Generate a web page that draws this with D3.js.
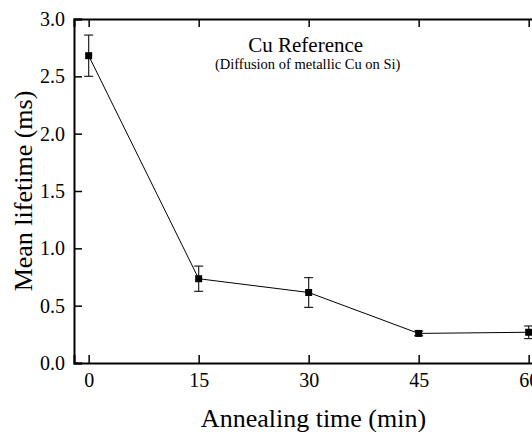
<!DOCTYPE html>
<html>
<head>
<meta charset="utf-8">
<script src="https://cdn.jsdelivr.net/npm/d3@7"></script>
<style>
  body { margin: 0; background: #fff; }
</style>
</head>
<body>
<svg id="chart"></svg>
<script>
// data
const annealTime = [0, 15, 30, 45, 60];
const lifetime = [2.68, 0.735, 0.615, 0.258, 0.268];
const lifetimeErr = [0.18, 0.11, 0.13, 0.02, 0.055];
const xTicks = [0, 15, 30, 45, 60];
const yTicks = [0.0, 0.5, 1.0, 1.5, 2.0, 2.5, 3.0];

const serif = "'Liberation Serif', 'Times New Roman', Times, serif";

// setting up svg
const w = 532, h = 432;
const margin = {top: 19, left: 74, bottom: 69, right: -15};
const innerW = w - margin.left - margin.right;
const innerH = h - margin.top - margin.bottom;

const svg = d3.select("#chart").attr("width", w).attr("height", h);
const g = svg.append("g").attr("transform", `translate(${margin.left},${margin.top})`);

// scales
const x = d3.scaleLinear().domain([-2, 62.5]).range([0, innerW]);
const y = d3.scaleLinear().domain([0, 3]).range([innerH, 0]);

// axes, ticks pointing inward
const xAxis = g.append("g").attr("transform", `translate(0,${innerH})`)
  .call(d3.axisBottom(x).tickValues(xTicks).tickSize(-8).tickPadding(10).tickFormat(d3.format("d")));
const xTop = g.append("g")
  .call(d3.axisTop(x).tickValues(xTicks).tickSize(-8).tickFormat(""));
const yAxis = g.append("g")
  .call(d3.axisLeft(y).tickValues(yTicks).tickSize(-8).tickPadding(9).tickFormat(d3.format(".1f")));
const yRight = g.append("g").attr("transform", `translate(${innerW},0)`)
  .call(d3.axisRight(y).tickValues(yTicks).tickSize(-8).tickFormat(""));

[xAxis, xTop, yAxis, yRight].forEach(a => {
  a.attr("font-family", null).attr("font-size", null);
  a.select(".domain").attr("stroke", "#000").attr("stroke-width", 2);
  a.selectAll(".tick line").attr("stroke", "#000").attr("stroke-width", 1.5);
  a.selectAll(".tick text").attr("fill", "#000")
    .style("font-family", serif).style("font-size", "20px");
});

// axis titles
svg.append("text")
  .attr("x", margin.left + innerW / 2 + 3)
  .attr("y", 427)
  .attr("text-anchor", "middle")
  .style("font-family", serif)
  .style("font-size", "26px")
  .text("Annealing time (min)");

svg.append("text")
  .attr("transform", `translate(32,${margin.top + innerH / 2}) rotate(-90)`)
  .attr("text-anchor", "middle")
  .style("font-family", serif)
  .style("font-size", "26px")
  .text("Mean lifetime (ms)");

// annotation
g.append("text")
  .attr("x", x(30) - 3).attr("y", 52 - margin.top)
  .attr("text-anchor", "middle")
  .style("font-family", serif).style("font-size", "21px")
  .text("Cu Reference");
g.append("text")
  .attr("x", x(30) - 1).attr("y", 69 - margin.top)
  .attr("text-anchor", "middle")
  .style("font-family", serif).style("font-size", "14.5px")
  .text("(Diffusion of metallic Cu on Si)");

// data
const pts = annealTime.map((t, i) => ({t, v: lifetime[i], e: lifetimeErr[i]}));

g.append("path")
  .datum(pts)
  .attr("fill", "none")
  .attr("stroke", "#000")
  .attr("stroke-width", 1)
  .attr("d", d3.line().x(d => x(d.t)).y(d => y(d.v)));

// error bars
const eb = g.append("g").attr("stroke", "#222").attr("stroke-width", 1.2);
eb.selectAll("line.v").data(pts).join("line").attr("class", "v")
  .attr("x1", d => x(d.t)).attr("x2", d => x(d.t))
  .attr("y1", d => y(d.v - d.e)).attr("y2", d => y(d.v + d.e));
eb.selectAll("line.top").data(pts).join("line").attr("class", "top")
  .attr("x1", d => x(d.t) - 4.5).attr("x2", d => x(d.t) + 4.5)
  .attr("y1", d => y(d.v + d.e)).attr("y2", d => y(d.v + d.e));
eb.selectAll("line.bot").data(pts).join("line").attr("class", "bot")
  .attr("x1", d => x(d.t) - 4.5).attr("x2", d => x(d.t) + 4.5)
  .attr("y1", d => y(d.v - d.e)).attr("y2", d => y(d.v - d.e));

// square markers
g.selectAll("rect.pt").data(pts).join("rect").attr("class", "pt")
  .attr("x", d => x(d.t) - 3.5).attr("y", d => y(d.v) - 3.5)
  .attr("width", 7).attr("height", 7)
  .attr("fill", "#000");
</script>
</body>
</html>
